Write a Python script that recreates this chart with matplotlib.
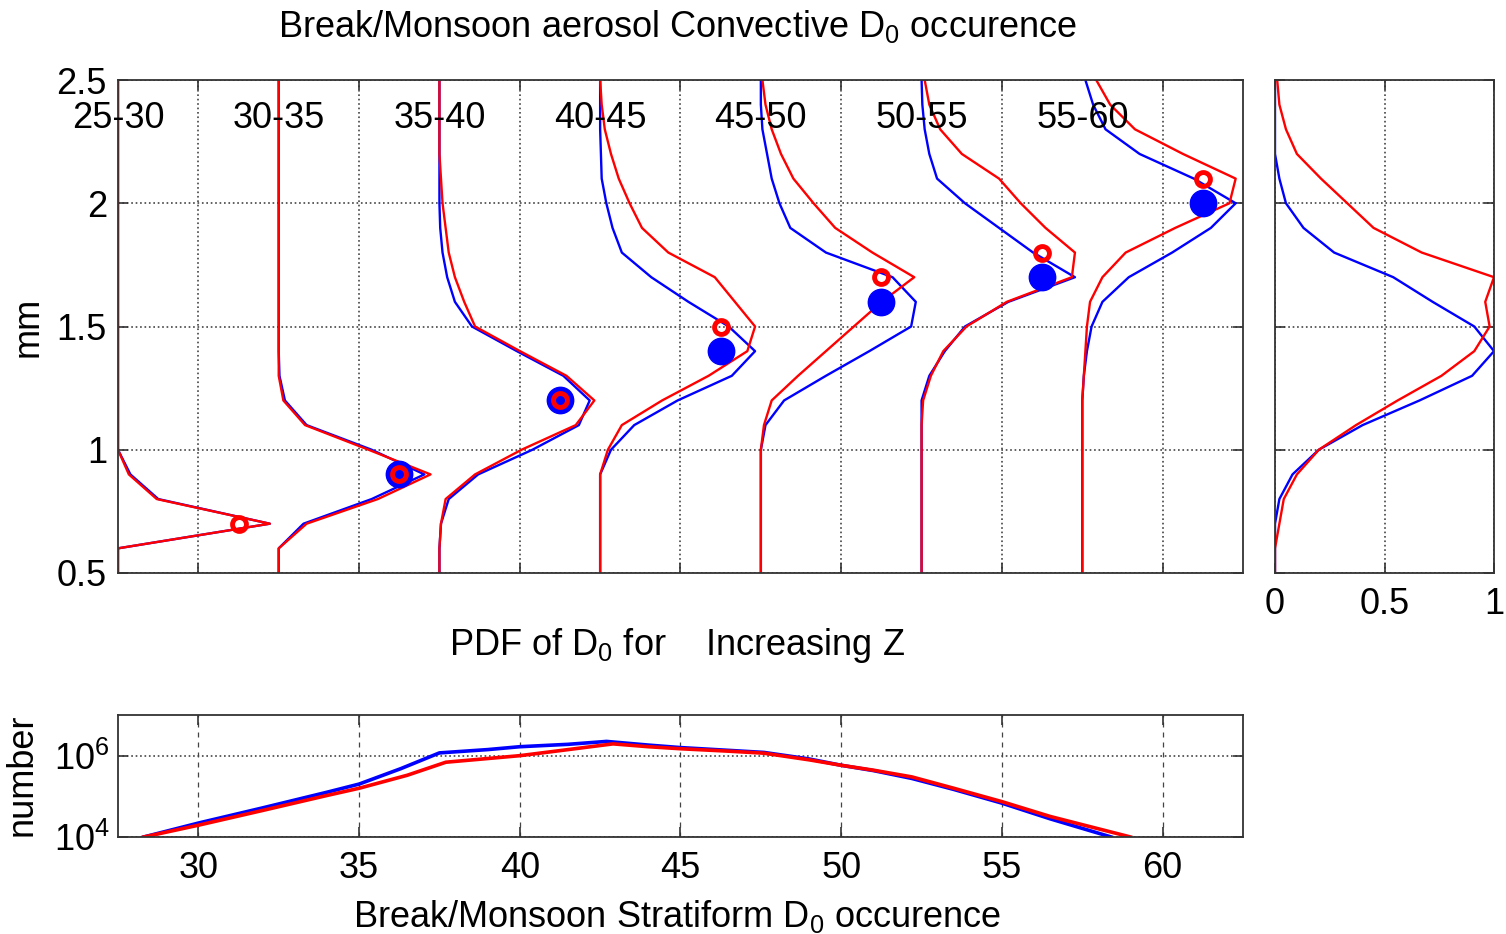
import numpy as np
import matplotlib
matplotlib.use("Agg")
import matplotlib.pyplot as plt
from matplotlib.ticker import FixedLocator, FixedFormatter, LogFormatterMathtext, NullFormatter

plt.rcParams['font.family'] = ['Liberation Sans', 'DejaVu Sans']
plt.rcParams['mathtext.fontset'] = 'custom'
plt.rcParams['mathtext.rm'] = 'Liberation Sans'
plt.rcParams['mathtext.it'] = 'Liberation Sans:italic'
plt.rcParams['mathtext.default'] = 'regular'

# ---------------- data ----------------
d0_mm = [0.5, 0.6, 0.7, 0.8, 0.9, 1.0, 1.1, 1.2, 1.3, 1.4, 1.5,
         1.6, 1.7, 1.8, 1.9, 2.0, 2.1, 2.2, 2.3, 2.4, 2.5]

bin_labels = ['25-30', '30-35', '35-40', '40-45', '45-50', '50-55', '55-60']
bin_base = [27.5, 32.5, 37.5, 42.5, 47.5, 52.5, 57.5]

# normalised PDFs of D0 per Z bin (blue = break, red = monsoon)
blue_25_30 = [0, 0, 0.98, 0.26, 0.08, 0, 0, 0, 0, 0, 0, 0, 0, 0, 0, 0, 0, 0, 0, 0, 0]
red_25_30 = [0, 0, 0.98, 0.25, 0.07, 0, 0, 0, 0, 0, 0, 0, 0, 0, 0, 0, 0, 0, 0, 0, 0]
blue_30_35 = [0, 0, 0.16, 0.60, 0.94, 0.60, 0.18, 0.04, 0.005, 0, 0, 0, 0, 0, 0, 0, 0, 0, 0, 0, 0]
red_30_35 = [0, 0, 0.18, 0.64, 0.98, 0.58, 0.17, 0.03, 0, 0, 0, 0, 0, 0, 0, 0, 0, 0, 0, 0, 0]
blue_35_40 = [0, 0, 0.01, 0.06, 0.25, 0.60, 0.90, 0.97, 0.80, 0.50, 0.21, 0.10, 0.05, 0.02, 0.005, 0, 0, 0, 0, 0, 0]
red_35_40 = [0, 0, 0.01, 0.04, 0.23, 0.53, 0.88, 1.00, 0.82, 0.52, 0.23, 0.16, 0.10, 0.06, 0.04, 0.02, 0.01, 0, 0, 0, 0]
blue_40_45 = [0, 0, 0, 0, 0, 0.07, 0.22, 0.50, 0.85, 1.00, 0.83, 0.57, 0.33, 0.14, 0.08, 0.04, 0.01, 0.005, 0, 0, 0]
red_40_45 = [0, 0, 0, 0, 0, 0.05, 0.14, 0.40, 0.70, 0.95, 1.00, 0.87, 0.74, 0.44, 0.27, 0.19, 0.12, 0.07, 0.03, 0.01, 0]
blue_45_50 = [0, 0, 0, 0, 0, 0, 0.03, 0.15, 0.42, 0.70, 0.97, 1.00, 0.85, 0.42, 0.19, 0.12, 0.07, 0.04, 0.01, 0, 0]
red_45_50 = [0, 0, 0, 0, 0, 0, 0.02, 0.07, 0.24, 0.42, 0.60, 0.78, 0.99, 0.72, 0.48, 0.34, 0.21, 0.13, 0.07, 0.03, 0.01]
blue_50_55 = [0, 0, 0, 0, 0, 0, 0, 0, 0.05, 0.15, 0.28, 0.56, 0.99, 0.72, 0.50, 0.28, 0.10, 0.05, 0.02, 0.005, 0]
red_50_55 = [0, 0, 0, 0, 0, 0, 0, 0.01, 0.06, 0.14, 0.29, 0.55, 0.97, 0.99, 0.80, 0.64, 0.50, 0.26, 0.12, 0.05, 0.02]
blue_55_60 = [0, 0, 0, 0, 0, 0, 0, 0, 0.01, 0.03, 0.06, 0.13, 0.30, 0.58, 0.83, 0.99, 0.72, 0.37, 0.15, 0.07, 0.02]
red_55_60 = [0, 0, 0, 0, 0, 0, 0, 0, 0.01, 0.02, 0.03, 0.05, 0.13, 0.28, 0.60, 0.95, 0.99, 0.65, 0.34, 0.18, 0.09]

blue_pdfs = [blue_25_30, blue_30_35, blue_35_40, blue_40_45, blue_45_50, blue_50_55, blue_55_60]
red_pdfs = [red_25_30, red_30_35, red_35_40, red_40_45, red_45_50, red_50_55, red_55_60]

# mean D0 markers
marker_z = [31.25, 36.25, 41.25, 46.25, 51.25, 56.25, 61.25]
blue_mean_d0 = [np.nan, 0.9, 1.2, 1.4, 1.6, 1.7, 2.0]
red_mean_d0 = [0.7, 0.9, 1.2, 1.5, 1.7, 1.8, 2.1]

# overall normalised PDFs (right panel)
blue_all = [0, 0, 0, 0.02, 0.08, 0.20, 0.40, 0.66, 0.90, 1.00, 0.91, 0.72, 0.54, 0.27, 0.13, 0.05, 0.02, 0, 0, 0, 0]
red_all = [0, 0, 0.02, 0.04, 0.10, 0.20, 0.37, 0.56, 0.76, 0.91, 0.98, 0.96, 1.00, 0.67, 0.45, 0.33, 0.21, 0.10, 0.05, 0.02, 0.01]

# stratiform occurrence vs Z (bottom panel)
blue_z = [28.3, 30, 32, 34, 35, 36.3, 37.5, 39, 40, 41.5, 42.7, 44, 45, 46.5, 47.6,
          49, 50, 51, 52.2, 53.5, 55, 56.5, 58.4]
blue_count = [1.0e4, 2.2e4, 5.2e4, 1.26e5, 2.0e5, 4.8e5, 1.17e6, 1.41e6, 1.66e6, 1.9e6, 2.24e6,
              1.82e6, 1.58e6, 1.35e6, 1.2e6, 8.3e5, 5.8e5, 4.3e5, 2.75e5, 1.48e5, 6.8e4, 2.8e4, 1.0e4]
red_z = [28.3, 30, 32, 34, 35, 36.5, 37.7, 39, 40, 41.5, 42.9, 44, 45, 46.5, 47.6,
         49, 50, 51, 52.2, 53.5, 55, 56.5, 59.0]
red_count = [1.0e4, 1.95e4, 4.5e4, 1.05e5, 1.58e5, 3.3e5, 6.9e5, 8.5e5, 1.0e6, 1.41e6, 1.95e6,
             1.66e6, 1.48e6, 1.29e6, 1.15e6, 7.9e5, 5.8e5, 4.4e5, 3.0e5, 1.58e5, 7.4e4, 3.2e4, 1.0e4]

# ---------------- style ----------------
W, H = 1506, 934
FS = 26
PDF_WIDTH = 4.82
BLUE = (0, 0, 1)
RED = (1, 0, 0)
SPINE = '#333333'
GRID = dict(color='#444444', linestyle=':', linewidth=1.2)

fig = plt.figure(figsize=(W / 100, H / 100), dpi=100)


def px_axes(l, t, r, b):
    return fig.add_axes([l / W, 1 - b / H, (r - l) / W, (b - t) / H])


def style(ax):
    for s in ax.spines.values():
        s.set_color(SPINE)
        s.set_linewidth(1.3)
    ax.tick_params(direction='in', length=7, width=1.2, labelsize=FS,
                   top=True, right=True, color=SPINE)


# main panel
ax = px_axes(118, 80, 1243, 573)
style(ax)
ax.set_xlim(27.5, 62.5)
ax.set_ylim(0.5, 2.5)
ax.xaxis.set_major_locator(FixedLocator([30, 35, 40, 45, 50, 55, 60]))
ax.xaxis.set_major_formatter(NullFormatter())
ax.yaxis.set_major_locator(FixedLocator([0.5, 1, 1.5, 2, 2.5]))
ax.yaxis.set_major_formatter(FixedFormatter(['0.5', '1', '1.5', '2', '2.5']))
ax.tick_params(axis='y', pad=8)
ax.grid(True, **GRID)
ax.set_axisbelow(True)

d = np.array(d0_mm)
for base, bp, rp in zip(bin_base, blue_pdfs, red_pdfs):
    ax.plot(base + PDF_WIDTH * np.array(bp), d, color=BLUE, lw=1.7, clip_on=True)
    ax.plot(base + PDF_WIDTH * np.array(rp), d, color=RED, lw=1.7, clip_on=True)
for base, lab in zip(bin_base, bin_labels):
    ax.text(base, 2.345, lab, ha='center', va='center', fontsize=FS, zorder=5)

ax.plot(marker_z, blue_mean_d0, linestyle='none', marker='o', ms=19,
        mfc=BLUE, mec=BLUE, zorder=6)
ax.plot(marker_z, red_mean_d0, linestyle='none', marker='o', ms=10,
        mfc='none', mec=RED, mew=3.5, zorder=7)

# right panel
ax2 = px_axes(1275, 80, 1494, 573)
style(ax2)
ax2.set_xlim(0, 1)
ax2.set_ylim(0.5, 2.5)
ax2.xaxis.set_major_locator(FixedLocator([0, 0.5, 1]))
ax2.xaxis.set_major_formatter(FixedFormatter(['0', '0.5', '1']))
ax2.yaxis.set_major_locator(FixedLocator([0.5, 1, 1.5, 2, 2.5]))
ax2.yaxis.set_major_formatter(NullFormatter())
ax2.tick_params(axis='x', pad=10)
ax2.grid(True, **GRID)
ax2.plot(blue_all, d0_mm, color=BLUE, lw=1.7)
ax2.plot(red_all, d0_mm, color=RED, lw=1.7)

# bottom panel
ax3 = px_axes(118, 715, 1243, 837)
style(ax3)
ax3.set_yscale('log')
ax3.set_xlim(27.5, 62.5)
ax3.set_ylim(1e4, 1e7)
ax3.xaxis.set_major_locator(FixedLocator([30, 35, 40, 45, 50, 55, 60]))
ax3.yaxis.set_major_locator(FixedLocator([1e4, 1e6]))
ax3.yaxis.set_major_formatter(LogFormatterMathtext())
ax3.yaxis.set_minor_formatter(NullFormatter())
ax3.tick_params(which='minor', length=0)
ax3.tick_params(axis='x', pad=10)
ax3.tick_params(axis='y', pad=6)
ax3.xaxis.grid(True, color='#444444', linestyle=(0, (4, 4)), linewidth=0.9)
ax3.yaxis.grid(True, **GRID)
ax3.plot(blue_z, blue_count, color=BLUE, lw=2.6)
ax3.plot(red_z, red_count, color=RED, lw=2.6)

# texts
fig.text(677 / W, 1 - 37 / H, r'Break/Monsoon aerosol Convective D$_0$ occurence',
         ha='center', va='baseline', fontsize=FS)
fig.text(677 / W, 1 - 655 / H, r'PDF of D$_0$ for    Increasing Z',
         ha='center', va='baseline', fontsize=FS)
fig.text(677 / W, 1 - 927 / H, r'Break/Monsoon Stratiform D$_0$ occurence',
         ha='center', va='baseline', fontsize=FS)
fig.text(28 / W, 1 - 327 / H, 'mm', rotation=90, ha='center', va='center', fontsize=FS)
fig.text(22 / W, 1 - 775 / H, 'number', rotation=90, ha='center', va='center', fontsize=FS)

fig.savefig('out.png', dpi=100)
